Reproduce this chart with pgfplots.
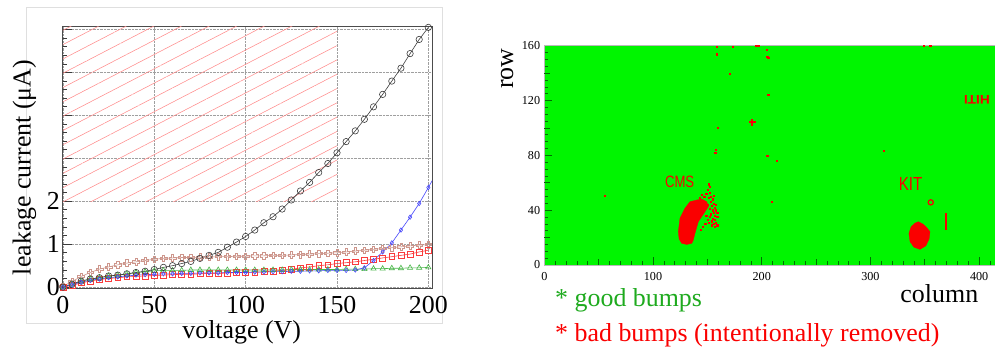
\documentclass[border=0pt]{standalone}
\usepackage{fontspec}
\setmainfont{Liberation Serif}
\newfontfamily\sansf{Liberation Sans}
\usepackage{pgfplots}
\pgfplotsset{compat=1.18}
\usetikzlibrary{patterns.meta}
\definecolor{mapgreen}{RGB}{0,245,0}
\definecolor{mapred}{RGB}{250,0,0}
\definecolor{rosy}{RGB}{205,150,140}
\definecolor{dgray}{RGB}{60,60,60}
\definecolor{sqred}{RGB}{250,60,60}
\definecolor{trgreen}{RGB}{70,180,70}
\definecolor{lblue}{RGB}{70,70,250}
\definecolor{goodgreen}{RGB}{30,170,30}
\definecolor{tickgreen}{RGB}{0,110,0}
\pgfdeclareplotmark{ocross}{%
  \pgfpathmoveto{\pgfpoint{-0.33\pgfplotmarksize}{\pgfplotmarksize}}%
  \pgfpathlineto{\pgfpoint{0.33\pgfplotmarksize}{\pgfplotmarksize}}%
  \pgfpathlineto{\pgfpoint{0.33\pgfplotmarksize}{0.33\pgfplotmarksize}}%
  \pgfpathlineto{\pgfpoint{\pgfplotmarksize}{0.33\pgfplotmarksize}}%
  \pgfpathlineto{\pgfpoint{\pgfplotmarksize}{-0.33\pgfplotmarksize}}%
  \pgfpathlineto{\pgfpoint{0.33\pgfplotmarksize}{-0.33\pgfplotmarksize}}%
  \pgfpathlineto{\pgfpoint{0.33\pgfplotmarksize}{-\pgfplotmarksize}}%
  \pgfpathlineto{\pgfpoint{-0.33\pgfplotmarksize}{-\pgfplotmarksize}}%
  \pgfpathlineto{\pgfpoint{-0.33\pgfplotmarksize}{-0.33\pgfplotmarksize}}%
  \pgfpathlineto{\pgfpoint{-\pgfplotmarksize}{-0.33\pgfplotmarksize}}%
  \pgfpathlineto{\pgfpoint{-\pgfplotmarksize}{0.33\pgfplotmarksize}}%
  \pgfpathlineto{\pgfpoint{-0.33\pgfplotmarksize}{0.33\pgfplotmarksize}}%
  \pgfpathclose\pgfusepathqstroke}

\pgfplotstableread{
v black rosy red green blue
0 0.00 0.02 0.00 0.00 0.00
5 0.07 0.13 0.04 0.07 0.06
10 0.14 0.25 0.10 0.14 0.12
15 0.19 0.34 0.14 0.19 0.16
20 0.22 0.42 0.18 0.22 0.19
25 0.26 0.47 0.20 0.26 0.22
30 0.28 0.52 0.22 0.28 0.24
35 0.31 0.56 0.24 0.31 0.26
40 0.34 0.59 0.25 0.34 0.28
45 0.37 0.62 0.26 0.36 0.29
50 0.41 0.65 0.27 0.38 0.30
55 0.46 0.67 0.28 0.39 0.31
60 0.50 0.68 0.29 0.39 0.31
65 0.55 0.69 0.30 0.39 0.32
70 0.60 0.69 0.30 0.40 0.32
75 0.67 0.70 0.31 0.40 0.33
80 0.74 0.70 0.32 0.40 0.33
85 0.81 0.71 0.32 0.40 0.33
90 0.93 0.71 0.33 0.40 0.34
95 1.05 0.72 0.34 0.40 0.34
100 1.18 0.72 0.35 0.40 0.34
105 1.33 0.73 0.35 0.40 0.35
110 1.50 0.73 0.36 0.40 0.35
115 1.64 0.74 0.37 0.40 0.36
120 1.82 0.74 0.39 0.40 0.36
125 2.03 0.75 0.41 0.41 0.37
130 2.24 0.76 0.45 0.41 0.37
135 2.44 0.77 0.47 0.41 0.38
140 2.67 0.78 0.50 0.41 0.38
145 2.88 0.79 0.52 0.41 0.39
150 3.13 0.80 0.55 0.41 0.39
155 3.39 0.82 0.57 0.42 0.39
160 3.64 0.84 0.59 0.42 0.40
165 3.91 0.86 0.62 0.42 0.45
170 4.20 0.88 0.65 0.43 0.62
175 4.49 0.90 0.68 0.43 0.82
180 4.80 0.92 0.71 0.44 1.03
185 5.10 0.94 0.74 0.44 1.33
190 5.44 0.96 0.77 0.45 1.63
195 5.77 0.98 0.82 0.45 1.95
200 6.05 0.99 0.86 0.46 2.32
}\ivdata

\begin{document}
\begin{tikzpicture}
\useasboundingbox (0,0) rectangle (995bp,349bp);
\draw[gray!25, line width=0.8bp] (26bp,26bp) rectangle (442bp,342bp);
% ---------------- left: I-V curves
\begin{axis}[
  at={(62bp,61bp)}, anchor=south west, scale only axis,
  width=370bp, height=261bp,
  xmin=-0.5, xmax=202, ymin=-0.02, ymax=6.06,
  /pgf/number format/assume math mode=true,
  xtick={0,50,100,150,200},
  ytick={0,1,2,3,4,5,6}, yticklabels={0,1,2,,,,},
  minor y tick num=4,
  xtick pos=bottom, ytick pos=left,
  tick align=inside,
  xtick style={draw=none},
  ytick style={dgray, line width=0.8bp},
  major tick length=10bp, minor tick length=5bp,
  grid=major, grid style={densely dotted, gray!75, line width=0.5bp},
  axis line style={gray!60!black, line width=1bp},
  tick label style={font=\fontsize{26}{26}\selectfont},
  xticklabel style={inner sep=1bp, yshift=-7bp},
  yticklabel style={inner sep=1bp, xshift=-1bp},
  xlabel={voltage (V)}, ylabel={leakage current (μA)},
  label style={font=\fontsize{26}{26}\selectfont},
  xlabel style={at={(axis description cs:0.4857,-0.1916)}, anchor=base},
  ylabel style={at={(axis description cs:-0.0851,0.4617)}, anchor=base},
]
\addplot[draw=none, pattern={Lines[angle=27.4, distance=12.7bp, line width=0.55bp]}, pattern color=red!45]
  coordinates {(0,2) (150,2) (150,6.06) (0,6.06) (0,2)};
\addplot[rosy, line width=0.6bp, mark=ocross, mark size=3.4bp] table[x=v, y=rosy] {\ivdata};
\addplot[sqred, line width=0.6bp, mark=square, mark size=2.9bp] table[x=v, y=red] {\ivdata};
\addplot[trgreen, line width=0.6bp, mark=triangle, mark size=3bp] table[x=v, y=green] {\ivdata};
\addplot[dgray, line width=0.6bp, mark=o, mark size=3.2bp] table[x=v, y=black] {\ivdata};
\addplot[lblue, line width=0.6bp, mark=diamond, mark size=2.2bp] table[x=v, y=blue] {\ivdata};
\addplot[lblue, line width=0.6bp] coordinates {(200,2.32) (203,2.55)};
\end{axis}
% ---------------- right: bump map
\begin{axis}[
  at={(544.3bp,84bp)}, anchor=south west, scale only axis,
  width=452.2bp, height=219.3bp,
  xmin=0, xmax=416, ymin=0, ymax=160,
  /pgf/number format/assume math mode=true,
  axis background/.style={fill=mapgreen},
  axis line style={gray!55, line width=0.8bp},
  xtick={0,100,200,300,400}, ytick={0,40,80,120,160},
  minor xtick={0,10,...,410}, minor ytick={0,5,...,160},
  extra x ticks={50,150,250,350}, extra y ticks={20,60,100,140},
  extra x tick labels={}, extra y tick labels={},
  extra tick style={major tick length=6bp},
  xtick pos=bottom, ytick pos=left, tick align=inside,
  major tick length=8bp, minor tick length=4bp,
  tick style={tickgreen, line width=0.6bp},
  tick label style={font=\fontsize{12.2}{12.2}\selectfont, text=black},
  xticklabel style={inner sep=1bp, yshift=-6bp},
  yticklabel style={inner sep=1bp, xshift=-3bp},
  clip=true,
]
% CMS blob
\addplot[fill=mapred, draw=mapred, line width=0.3bp] coordinates {
 (126.4,15.8) (131,15) (135.6,15.8) (137.1,18.2) (138.6,23.1) (141.7,31.6) (147.8,38.9)
 (150.9,42.5) (149.4,46.2) (144.8,48.1) (140.2,47.4) (134.0,46.2) (129.4,41.4)
 (124.8,34.1) (123.3,24.3) (124,19) (126.4,15.8)};
% KIT blob
\addplot[fill=mapred, draw=mapred, line width=0.3bp] coordinates {
 (344.1,31.6) (348,30) (351,28) (354.8,24.3) (354,19) (351,14) (345.6,11.4)
 (340,13) (336.5,17) (335.4,23.1) (337.5,28) (341,30.5) (344.1,31.6)};
% scattered bad bumps
\addplot[only marks, mark=square*, mark size=0.6bp, mapred, draw=mapred] coordinates {
 (151,59) (152,57) (150,55) (152,53) (149,52) (153,50) (151,49) (155,48) (153,46)
 (156,45) (154,43) (157,42) (155,40) (158,40) (156,38) (153,37) (157,36) (159,35)
 (155,34) (157,33) (158,31) (156,30) (159,29) (157,28) (154,32) (152,35) (150,33)
 (148,30) (146,28) (144,26) (152,41) (150,44) (147,50) (145,51) (143,49) (158,44)
 (159,38) (154,29) (151,31) (149,36) (155.9,50.6)
 (158.6,159.4) (158.6,153.8) (173,159.4) (195,160) (196,160) (197,160)
 (204.6,157) (205,152) (206,151) (349,160) (355,160) (170.8,139.3) (206,124.5)
 (159.5,100) (158,84) (158,82) (157,82) (205,80) (213.7,76) (312,83.4) (209,46)
 (55.9,50.6)};
% small shapes
\addplot[only marks, mark=+, mark size=3.2bp, mapred, mark options={line width=2bp}] coordinates {(191.5,104)};
\addplot[only marks, mark=o, mark size=2.6bp, mapred, mark options={line width=1.2bp}] coordinates {(355.5,45.7)};
\addplot[mapred, line width=1.2bp] coordinates {(369.5,25.5) (369.5,38)};
\node[text=mapred, font=\sansf\fontsize{16.5}{16.5}\selectfont, xscale=0.8] at (axis cs:124.5,61) {CMS};
\node[text=mapred, font=\sansf\fontsize{19}{19}\selectfont, xscale=0.8] at (axis cs:337,59.2) {KIT};
\node[text=mapred, font=\sansf\bfseries\fontsize{12.5}{12.5}\selectfont, rotate=180, xscale=1.1] at (axis cs:398,120.5) {HITI};
\end{axis}
\node[rotate=90, anchor=base east, font=\fontsize{26}{26}\selectfont] at (513bp,304bp) {row};
\node[anchor=base east, font=\fontsize{26}{26}\selectfont] at (981.7bp,46.3bp) {column};
\node[anchor=base west, font=\fontsize{26}{26}\selectfont, text=goodgreen] at (551.7bp,42.3bp) {* good bumps};
\node[anchor=base west, font=\fontsize{26}{26}\selectfont, text=mapred] at (551.7bp,8bp) {* bad bumps (intentionally removed)};
\end{tikzpicture}
\end{document}
